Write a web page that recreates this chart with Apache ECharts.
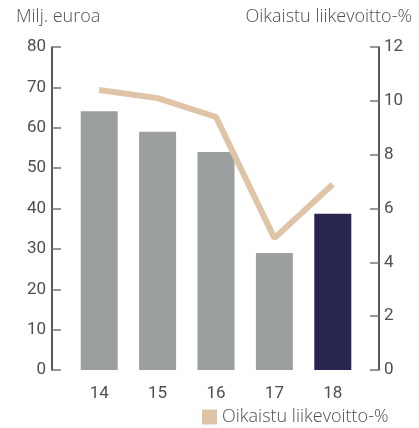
<!DOCTYPE html>
<html>
<head>
	<meta charset="UTF-8">
	<title>Oikaistu liikevoitto</title>
	<style>
		html, body { margin: 0; padding: 0; background: #fff; }
		#chart { width: 419px; height: 428px; }
	</style>
</head>
<body>
<div id="chart"></div>
<script type="text/javascript" src="https://cdn.jsdelivr.net/npm/echarts@6/dist/echarts.min.js"></script>
<script type="text/javascript">
var years = ['14', '15', '16', '17', '18'];
var sales = [64.1, 59, 54, 29, 38.7];
var margin = [10.4, 10.1, 9.4, 4.9, 6.9];
var barColors = ['#9c9fa0', '#9c9fa0', '#9c9fa0', '#9c9fa0', '#262650'];
var lineName = 'Oikaistu liikevoitto-%';

var font = 'Roboto';
var wordFont = 'Open Sans';
var txt = '#4f4f4f';

var chart = echarts.init(document.getElementById('chart'));
var barData = [];
for (var i = 0; i < sales.length; i++) {
	barData.push({ value: sales[i], itemStyle: { color: barColors[i] } });
}
var option = {
	animation: false,
	textStyle: { fontFamily: font },
	title: [
		{ text: 'Milj. euroa', left: 11, top: 3, textStyle: { fontFamily: wordFont, fontSize: 18, fontWeight: 300, color: txt } },
		{ text: lineName, right: 2, top: 3, textStyle: { fontFamily: wordFont, fontSize: 18, fontWeight: 300, color: txt } }
	],
	legend: {
		data: [{ name: lineName, icon: 'rect' }],
		left: 197, top: 403,
		itemWidth: 15, itemHeight: 15, itemGap: 8,
		textStyle: { fontFamily: wordFont, fontSize: 18, fontWeight: 300, color: txt }
	},
	grid: { left: 70, right: 57, top: 47, bottom: 58 },
	xAxis: {
		type: 'category',
		data: years,
		axisLine: { show: false },
		axisTick: { show: false },
		axisLabel: { fontFamily: font, fontSize: 17, color: txt, margin: 15 }
	},
	yAxis: [
		{
			type: 'value', min: 0, max: 80, interval: 10,
			position: 'left', offset: 18,
			splitLine: { show: false },
			axisLine: { show: true, lineStyle: { color: '#222', width: 1.5 } },
			axisTick: { show: true, inside: true, length: 9, lineStyle: { color: '#777', width: 1.5 } },
			axisLabel: { fontFamily: font, fontSize: 17, color: txt, margin: 6 }
		},
		{
			type: 'value', min: 0, max: 12, interval: 2,
			position: 'right', offset: 17,
			splitLine: { show: false },
			axisLine: { show: true, lineStyle: { color: '#222', width: 1.5 } },
			axisTick: { show: true, inside: true, length: 9, lineStyle: { color: '#777', width: 1.5 } },
			axisLabel: { fontFamily: font, fontSize: 17, color: txt, margin: 5 }
		}
	],
	series: [
		{
			name: 'Milj. euroa',
			type: 'bar',
			yAxisIndex: 0,
			barWidth: 37,
			data: barData
		},
		{
			name: lineName,
			type: 'line',
			yAxisIndex: 1,
			data: margin,
			symbol: 'none',
			itemStyle: { color: '#dfc4a8' },
			lineStyle: { color: '#dfc4a8', width: 6 }
		}
	]
};
chart.setOption(option);
</script>
</body>
</html>
